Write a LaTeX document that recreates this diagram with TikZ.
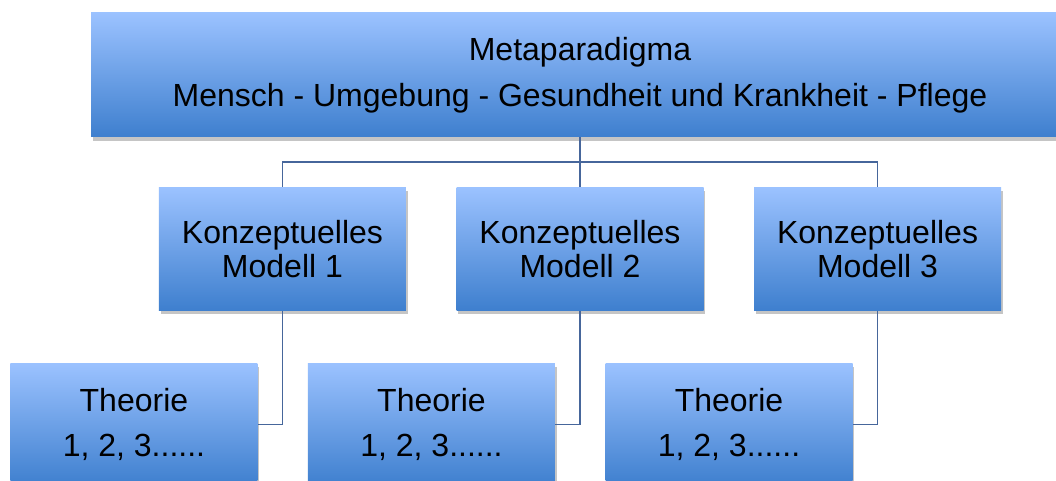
\documentclass[tikz,border=0pt]{standalone}
\usepackage{fontspec}
\setmainfont{Liberation Sans}
\usetikzlibrary{positioning, shadows}
\definecolor{boxtop}{RGB}{155,194,255}
\definecolor{boxbottom}{RGB}{62,127,206}
\definecolor{linkblue}{RGB}{70,102,155}

\begin{document}
\begin{tikzpicture}[
  x=0.75pt, y=-0.75pt,
  box/.style={rectangle, top color=boxtop, bottom color=boxbottom, draw=none,
              text centered, align=center, inner sep=0pt,
              drop shadow={shadow xshift=1.2pt, shadow yshift=-2.8pt, fill=black!45, opacity=0.5}},
  metabox/.style={box, minimum width=733.5pt, minimum height=93pt,
                  font=\fontsize{24}{34.5}\selectfont},
  modelbox/.style={box, minimum width=185.25pt, minimum height=92.25pt,
                   font=\fontsize{24}{25}\selectfont},
  theobox/.style={box, minimum width=185.25pt, minimum height=92.25pt,
                  font=\fontsize{24}{34}\selectfont},
  link/.style={draw=linkblue, line width=1.2pt}
]
\clip (0,0) rectangle (1056,481);
\fill[white] (0,0) rectangle (1056,481);

% --- Metaparadigma ---
\node[metabox] (meta) at (580,75) {Metaparadigma\\Mensch - Umgebung - Gesundheit und Krankheit - Pflege};

% --- Konzeptuelle Modelle ---
\node[modelbox, below=37.5pt of meta] (modell2) {Konzeptuelles\\Modell 2};
\node[modelbox, left=37.5pt of modell2] (modell1) {Konzeptuelles\\Modell 1};
\node[modelbox, right=37.5pt of modell2] (modell3) {Konzeptuelles\\Modell 3};

% --- Theorien ---
\node[theobox, below=39pt of modell1, xshift=-111.4pt] (theorie1) {Theorie\\1, 2, 3......};
\node[theobox, below=39pt of modell2, xshift=-111.4pt] (theorie2) {Theorie\\1, 2, 3......};
\node[theobox, below=39pt of modell3, xshift=-111.4pt] (theorie3) {Theorie\\1, 2, 3......};

% --- Verbindungen ---
\coordinate (fork) at ([yshift=-18.75pt]meta.south);
\draw[link] (meta.south) -- (modell2.north);
\draw[link] (fork) -| (modell1.north);
\draw[link] (fork) -| (modell3.north);

\draw[link] (modell1.south) |- (theorie1.east);
\draw[link] (modell2.south) |- (theorie2.east);
\draw[link] (modell3.south) |- (theorie3.east);

\end{tikzpicture}
\end{document}
